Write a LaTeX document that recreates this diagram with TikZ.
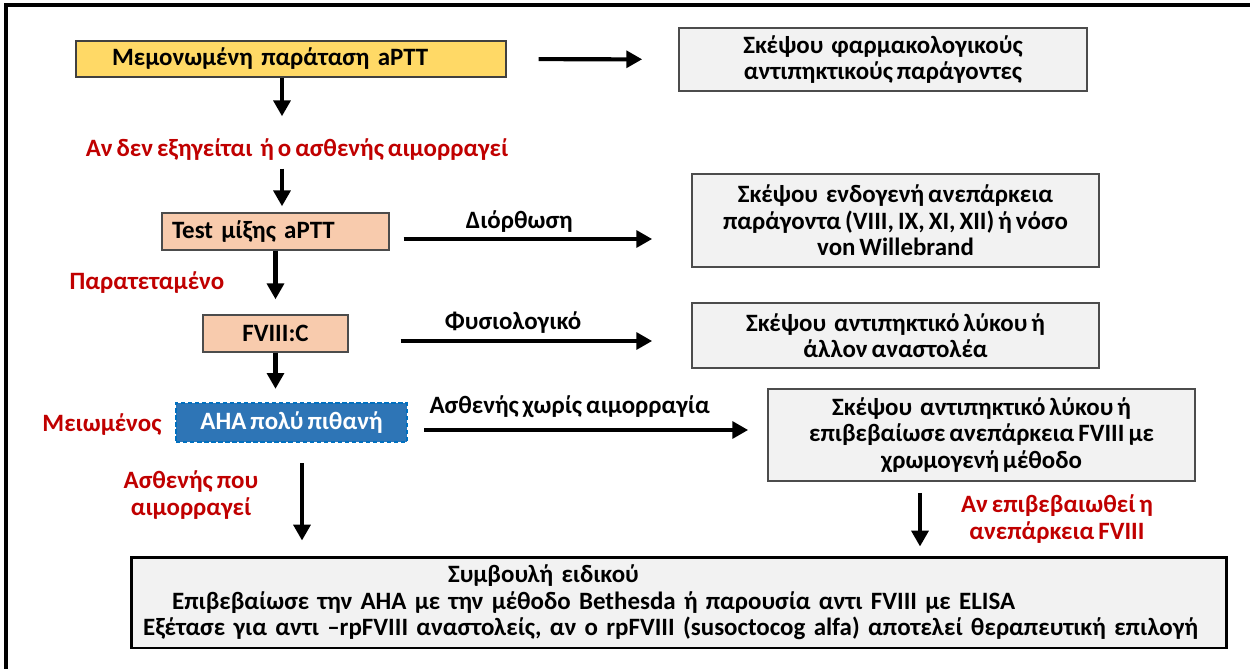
\documentclass[tikz,border=0pt]{standalone}
\usepackage{fontspec}
\setmainfont{Carlito}[WordSpace=0.7]
\usepackage{tikz}
\usetikzlibrary{arrows.meta, calc}
\definecolor{boxyellow}{HTML}{FFD966}
\definecolor{boxpeach}{HTML}{F8CBAD}
\definecolor{boxgrey}{HTML}{F2F2F2}
\definecolor{ahablue}{HTML}{2E75B6}
\definecolor{ahadash}{HTML}{0070C0}
\definecolor{labelred}{HTML}{C00000}
\tikzset{
		every node/.style={font=\bfseries\fontsize{14.2}{15}\selectfont},
		flow/.style={-{Triangle[length=9pt, width=9.5pt]}, line width=2.3pt},
		yellow box/.style={draw=black!75, line width=0.8pt, fill=boxyellow, inner ysep=0pt},
		peach box/.style={draw=black!70, line width=0.8pt, fill=boxpeach, inner ysep=0pt},
		grey box/.style={draw=black!70, line width=1pt, fill=boxgrey, align=center, inner sep=0pt},
		blue box/.style={draw=ahadash, line width=1.3pt, dash pattern=on 2.5pt off 1.5pt, fill=ahablue, text=white, inner sep=0pt},
		expert box/.style={draw=black, line width=1.7pt, fill=boxgrey, align=left, inner ysep=0pt},
		red label/.style={text=labelred, align=center, inner sep=0pt}
	}
\begin{document}
\begin{tikzpicture}[x=0.02cm, y=-0.02cm]
				\useasboundingbox (0,0) rectangle (1250,669);
				\draw[line width=2pt] (1250,5) -- (6,5) -- (6,669);

				\node[yellow box, minimum width=8.6cm, minimum height=0.72cm, text width=7.16cm, inner xsep=0.72cm, align=left] (aptt) at (291,59) {Μεμονωμένη παράταση aPTT};
				\node[grey box, minimum width=8.16cm, minimum height=1.26cm] (pharm) at (883,59.5) {Σκέψου\ \ φαρμακολογικούς\\αντιπηκτικούς παράγοντες};
				\node[red label] (unexplained) at (297,150) {Αν δεν εξηγείται\ \ ή ο ασθενής αιμορραγεί};
				\node[peach box, minimum width=4.54cm, minimum height=0.74cm, text width=4.14cm, inner xsep=0.2cm, align=left] (mixing) at (275.5,231.5) {Test μίξης aPTT};
				\node[grey box, minimum width=8.14cm, minimum height=1.86cm] (intrinsic) at (895.5,220.5) {Σκέψου\ \ ενδογενή ανεπάρκεια\\παράγοντα (VIII, IX, XI, XII) ή νόσο\\von Willebrand};
				\node[red label] (prolonged) at (147,283) {Παρατεταμένο};
				\node[peach box, minimum width=2.9cm, minimum height=0.74cm] (fviii) at (275.5,333.5) {FVIII:C};
				\node[grey box, minimum width=8.14cm, minimum height=1.3cm] (lupus) at (895.5,335.5) {Σκέψου\ \ αντιπηκτικό λύκου ή\\άλλον αναστολέα};
				\node[blue box, minimum width=4.62cm, minimum height=0.78cm] (aha) at (291.5,422.5) {AHA πολύ πιθανή};
				\node[red label] (reduced) at (102,425) {Μειωμένος};
				\node[grey box, minimum width=8.54cm, minimum height=1.84cm] (confirm) at (981.5,435) {Σκέψου\ \ αντιπηκτικό λύκου ή\\επιβεβαίωσε ανεπάρκεια FVIII με\\χρωμογενή μέθοδο};
				\node[red label] (bleeding) at (191,495) {Ασθενής που\\αιμορραγεί};
				\node[red label] (confirmed) at (1057,519) {Αν επιβεβαιωθεί η\\ανεπάρκεια FVIII};
				\node[expert box, minimum width=21.92cm, minimum height=1.82cm, text width=21.44cm, inner xsep=0.24cm] (expert) at (679,602.5) {\hspace*{6.1cm}Συμβουλή ειδικού\\\hspace*{0.58cm}Επιβεβαίωσε την AHA με την μέθοδο Bethesda ή παρουσία αντι FVIII με ELISA\\Εξέτασε για αντι –rpFVIII αναστολείς, αν ο rpFVIII (susoctocog alfa) αποτελεί θεραπευτική επιλογή};

				% main column
				\draw[flow, shorten <=0.64cm, shorten >=0.72cm] (aptt) -- (pharm);
				\draw[flow, shorten >=0.45cm] ($(mixing.north |- aptt.south)+(6.5,0)$) -- ($(mixing.north |- unexplained.north)+(6.5,0)$);
				\draw[flow, shorten <=0.15cm, shorten >=0.12cm] ($(mixing.north |- unexplained.south)+(6.5,0)$) -- ($(mixing.north)+(6.5,0)$);
				\draw[flow, shorten >=0.3cm] (mixing) -- (fviii);
				\draw[flow, shorten >=0.26cm] (fviii.south) -- (fviii.south |- aha.north);
				\draw[flow, shorten <=0.4cm, shorten >=0.3cm] ($(aha.south)+(10.5,0)$) -- ($(aha.south |- expert.north)+(10.5,0)$);
				\draw[flow, shorten <=0.22cm, shorten >=0.18cm] ($(confirm.south)+(-61.5,0)$) -- ($(confirm.south |- expert.north)+(-61.5,0)$);

				% side branches
				\draw[flow, shorten <=0.28cm, shorten >=0.78cm] ($(mixing.east)+(0,7.5)$) -- node[pos=0.43, yshift=0.34cm] (correction) {Διόρθωση} ($(mixing.east -| intrinsic.west)+(0,7.5)$);
				\draw[flow, shorten <=1.04cm, shorten >=0.78cm] ($(fviii.east)+(0,7.5)$) -- node[pos=0.48, yshift=0.36cm] (normal) {Φυσιολογικό} ($(fviii.east -| lupus.west)+(0,7.5)$);
				\draw[flow, shorten <=0.32cm, shorten >=0.38cm] ($(aha.east)+(0,7.5)$) -- node[pos=0.45, yshift=0.46cm] (nobleed) {Ασθενής χωρίς αιμορραγία} ($(aha.east -| confirm.west)+(0,7.5)$);
			\end{tikzpicture}
\end{document}
